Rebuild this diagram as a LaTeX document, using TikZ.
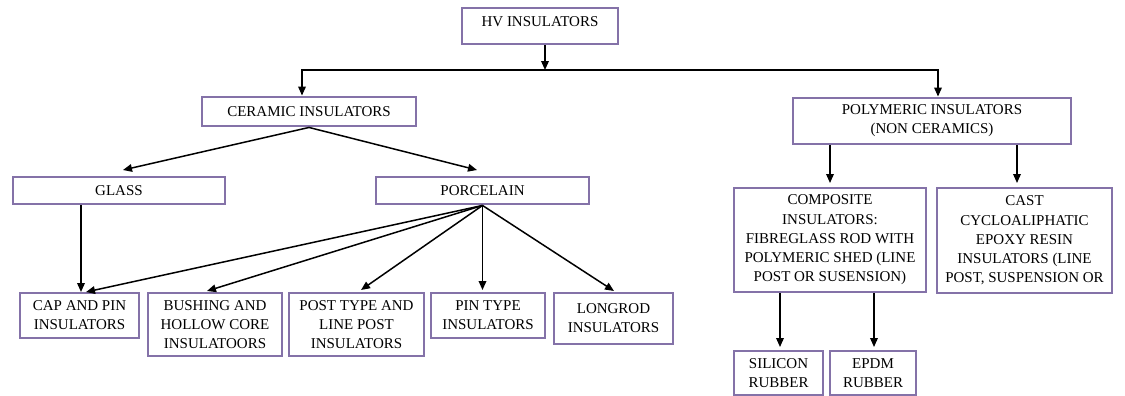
\documentclass[tikz,border=0pt]{standalone}
\usepackage{fontspec}
\setmainfont{Liberation Serif}
\usetikzlibrary{arrows.meta}
\definecolor{boxc}{RGB}{132,114,168}
\begin{document}
\begin{tikzpicture}[x=0.5pt,y=-0.5pt,
  box/.style={draw=boxc,line width=1.45pt,fill=white,inner sep=0pt,align=center,
    font=\fontsize{7.5}{9.6}\selectfont},
  conn/.style={draw=black,line width=0.75pt,-{Triangle[length=4.5pt,width=3.8pt]}},
  conn2/.style={draw=black,line width=0.75pt,{Triangle[length=4.5pt,width=3.8pt]}-{Triangle[length=4.5pt,width=3.8pt]}}]
\useasboundingbox (0,0) rectangle (1125,396);
% boxes
\node[box,minimum width=78pt,minimum height=18pt,text height=9pt,text depth=9pt] (hv) at (540,26) {HV INSULATORS};
\node[box,minimum width=107pt,minimum height=14.5pt] (cer) at (309,111.5) {CERAMIC INSULATORS};
\node[box,minimum width=139pt,minimum height=23pt] (poly) at (932,121) {POLYMERIC INSULATORS\\(NON CERAMICS)};
\node[box,minimum width=106pt,minimum height=13.5pt] (glass) at (119,190.5) {GLASS};
\node[box,minimum width=106.5pt,minimum height=13.5pt] (porc) at (482.5,190.5) {PORCELAIN};
\node[box,minimum width=96pt,minimum height=52pt] (comp) at (830,240) {COMPOSITE\\INSULATORS:\\FIBREGLASS ROD WITH\\POLYMERIC SHED (LINE\\POST OR SUSENSION)};
\node[box,minimum width=87.5pt,minimum height=52.5pt] (cast) at (1024.5,240.5) {CAST\\CYCLOALIPHATIC\\EPOXY RESIN\\INSULATORS (LINE\\POST, SUSPENSION OR};
\node[box,minimum width=59.5pt,minimum height=22.5pt] (cap) at (79.5,315.5) {CAP AND PIN\\INSULATORS};
\node[box,minimum width=67pt,minimum height=31.5pt] (bush) at (215,324.5) {BUSHING AND\\HOLLOW CORE\\INSULATOORS};
\node[box,minimum width=67.5pt,minimum height=31.5pt] (post) at (356.5,324.5) {POST TYPE AND\\LINE POST\\INSULATORS};
\node[box,minimum width=57pt,minimum height=22.5pt] (pin) at (488,315.5) {PIN TYPE\\INSULATORS};
\node[box,minimum width=59.5pt,minimum height=25.5pt] (long) at (613.5,318.5) {LONGROD\\INSULATORS};
\node[box,minimum width=44.5pt,minimum height=22pt] (sil) at (778.5,373) {SILICON\\RUBBER};
\node[box,minimum width=43pt,minimum height=22pt] (epdm) at (873,373) {EPDM\\RUBBER};
% coordinates
\coordinate (j) at (545,70);
\coordinate (jl) at (302,70);
\coordinate (jr) at (938,70);
\coordinate (tg) at (123,170);
\coordinate (tp) at (477,170);
\coordinate (gx) at (81,292);
\coordinate (tcap) at (86,292);
\coordinate (tbush) at (207,291);
\coordinate (tpost) at (361,290);
\coordinate (tpin) at (482.5,290);
\coordinate (tlong) at (614,291);
\coordinate (pa) at (830,183);
\coordinate (pb) at (1017,183);
\coordinate (ca) at (780,347);
\coordinate (cb) at (874,347);
% connectors
\draw[conn] (hv.south -| j) -- (j);
\draw[conn2] (cer.north -| jl) -- (jl) -- (jr) -- (poly.north -| jr);
\draw[conn] (cer.south) -- (tg);
\draw[conn] (cer.south) -- (tp);
\draw[conn] (glass.south -| gx) -- (gx);
\draw[conn] (porc.south) -- (tcap);
\draw[conn] (porc.south) -- (tbush);
\draw[conn] (porc.south) -- (tpost);
\draw[conn] (porc.south) -- (tpin);
\draw[conn] (porc.south) -- (tlong);
\draw[conn] (poly.south -| pa) -- (pa);
\draw[conn] (poly.south -| pb) -- (pb);
\draw[conn] (comp.south -| ca) -- (ca);
\draw[conn] (comp.south -| cb) -- (cb);
\end{tikzpicture}
\end{document}
